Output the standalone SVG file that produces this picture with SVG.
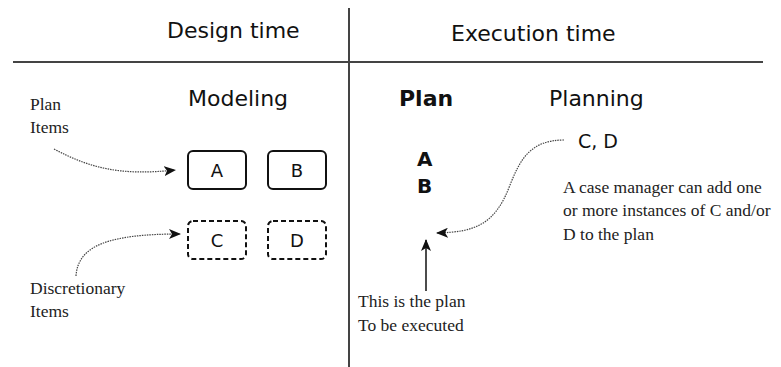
<svg xmlns="http://www.w3.org/2000/svg" width="781" height="367" viewBox="0 0 781 367">
  <defs>
    <style>
      .head { font-family: "DejaVu Sans", sans-serif; font-size: 22px; fill: #111; }
      .bold { font-family: "DejaVu Sans", sans-serif; font-size: 22px; font-weight: bold; fill: #111; }
      .mark { font-family: "DejaVu Sans", sans-serif; font-size: 20px; font-weight: bold; fill: #111; }
      .cd { font-family: "DejaVu Sans", sans-serif; font-size: 19px; fill: #111; }
      .lbl { font-family: "DejaVu Sans", sans-serif; font-size: 18px; fill: #111; text-anchor: middle; }
      .note { font-family: "Liberation Serif", serif; font-size: 17.5px; fill: #222; }
      .rule { stroke: #444; stroke-width: 2; }
      .box { fill: #fff; stroke: #111; stroke-width: 2; }
      .dash { fill: #fff; stroke: #111; stroke-width: 2; stroke-dasharray: 5 3; }
      .curve { fill: none; stroke: #444; stroke-width: 1.2; stroke-dasharray: 1.5 1; }
      .solid { fill: none; stroke: #111; stroke-width: 1.5; }
    </style>
    <marker id="head" viewBox="0 0 12 10" refX="11" refY="5" markerWidth="12" markerHeight="10" markerUnits="userSpaceOnUse" orient="auto">
      <path d="M0,0 L12,5 L0,10 L3,5 Z" fill="#111"/>
    </marker>
  </defs>

  <!-- frame lines -->
  <line class="rule" x1="13" y1="62" x2="763" y2="62"/>
  <line class="rule" x1="349" y1="8" x2="349" y2="367"/>

  <!-- headers -->
  <text class="head" x="167" y="38">Design time</text>
  <text class="head" x="451" y="41">Execution time</text>
  <text class="head" x="188" y="106">Modeling</text>
  <text class="bold" x="399" y="106">Plan</text>
  <text class="head" x="549" y="106">Planning</text>

  <!-- model items -->
  <g id="node-a"><rect class="box" x="188" y="151" width="58" height="38" rx="5"/><text class="lbl" x="217" y="177">A</text></g>
  <g id="node-b"><rect class="box" x="268" y="151" width="58" height="38" rx="5"/><text class="lbl" x="297" y="177">B</text></g>
  <g id="node-c"><rect class="dash" x="188" y="221" width="58" height="38" rx="5"/><text class="lbl" x="217" y="247">C</text></g>
  <g id="node-d"><rect class="dash" x="268" y="221" width="58" height="38" rx="5"/><text class="lbl" x="297" y="247">D</text></g>

  <!-- plan contents -->
  <g id="plan-items">
    <text class="mark" x="417" y="166">A</text>
    <text class="mark" x="417" y="193">B</text>
  </g>
  <g id="planning-items"><text class="cd" x="578" y="148">C, D</text></g>

  <!-- notes -->
  <g id="note-plan-items" class="note">
    <text x="30" y="110">Plan</text>
    <text x="30" y="133">Items</text>
  </g>
  <g id="note-discretionary" class="note">
    <text x="30" y="294">Discretionary</text>
    <text x="30" y="317">Items</text>
  </g>
  <g id="note-manager" class="note">
    <text x="563" y="193">A case manager  can add one</text>
    <text x="563" y="216">or more instances of C and/or</text>
    <text x="563" y="240">D to the plan</text>
  </g>
  <g id="note-plan" class="note">
    <text x="358" y="307">This is the plan</text>
    <text x="358" y="331">To be executed</text>
  </g>

  <!-- connectors -->
  <g id="connectors">
    <path class="curve" d="M54,149 C90,168 120,176 175,170" marker-end="url(#head)"/>
    <path class="curve" d="M76,276 C78,245 110,234 180,234" marker-end="url(#head)"/>
    <path class="curve" d="M564,140 C530,140 520,160 510,185 C495,225 475,232 437,233" marker-end="url(#head)"/>
    <path class="solid" d="M426,291 L426,240" marker-end="url(#head)"/>
  </g>
</svg>
